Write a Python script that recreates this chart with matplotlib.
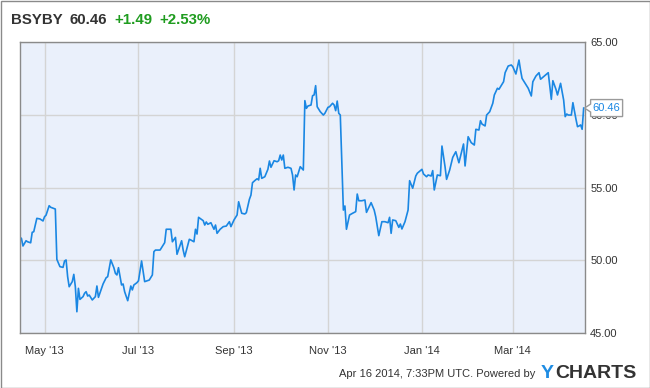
#!/usr/bin/env python3
"""BSYBY one-year price chart, YCharts style. Saves out.png."""
import pandas as pd
import matplotlib
matplotlib.use("Agg")
import matplotlib.pyplot as plt
import matplotlib.dates as mdates
from matplotlib.patches import Polygon, Rectangle
from matplotlib.transforms import IdentityTransform

plt.rcParams["font.family"] = ["Liberation Sans", "DejaVu Sans"]

# data: days after 2013-04-15 and closing price
start = "2013-04-15"
days = [
    0, 1, 2, 4, 5, 7, 8, 9, 11, 13,
    15, 16, 17, 19, 20, 23, 24, 26, 28, 29,
    30, 31, 32, 34, 35, 36, 37, 38, 39, 41,
    42, 43, 44, 45, 47, 49, 50, 51, 53, 54,
    56, 57, 59, 61, 62, 63, 64, 66, 67, 68,
    70, 72, 73, 74, 76, 77, 79, 81, 84, 86,
    87, 88, 91, 94, 95, 98, 99, 101, 102, 105,
    106, 107, 110, 111, 113, 114, 115, 116, 119, 120,
    121, 122, 124, 125, 126, 127, 128, 130, 132, 134,
    136, 137, 139, 141, 142, 144, 146, 147, 149, 150,
    151, 153, 154, 155, 156, 157, 159, 161, 162, 163,
    165, 167, 168, 169, 170, 171, 172, 174, 176, 177,
    178, 179, 180, 181, 182, 184, 185, 186, 187, 189,
    190, 191, 192, 193, 195, 197, 198, 200, 201, 203,
    204, 205, 206, 207, 208, 210, 211, 212, 214, 216,
    218, 219, 220, 222, 224, 225, 227, 228, 230, 231,
    233, 235, 237, 239, 240, 241, 242, 244, 246, 247,
    248, 250, 252, 253, 255, 257, 258, 261, 262, 264,
    265, 267, 268, 269, 271, 273, 274, 276, 277, 279,
    281, 283, 285, 286, 288, 289, 291, 293, 295, 296,
    298, 299, 300, 302, 303, 305, 307, 308, 310, 311,
    314, 315, 317, 319, 320, 322, 324, 325, 326, 328,
    330, 332, 333, 335, 337, 338, 340, 342, 343, 345,
    346, 348, 349, 351, 353, 354, 355, 356, 358, 359,
    361, 362, 363, 364, 365, 366,
]
prices = [
    51.58, 51.50, 50.98, 51.34, 51.27, 51.20, 51.92, 51.96, 52.88, 52.84,
    52.70, 52.99, 53.10, 53.75, 53.64, 53.52, 50.06, 49.56, 49.51, 49.95,
    50.02, 48.87, 48.18, 48.53, 49.03, 48.18, 46.46, 48.07, 47.31, 47.50,
    47.73, 47.84, 47.54, 47.61, 47.27, 47.50, 48.23, 47.45, 48.07, 48.37,
    48.80, 48.87, 50.02, 49.49, 49.10, 48.99, 49.49, 48.30, 48.37, 47.84,
    47.22, 48.23, 47.96, 48.30, 48.46, 48.59, 49.95, 48.53, 48.64, 48.99,
    50.59, 50.70, 50.70, 51.21, 52.13, 52.13, 51.27, 51.57, 50.41, 51.34,
    50.70, 50.24, 51.44, 51.39, 51.27, 52.13, 51.80, 52.95, 52.72, 52.42,
    52.63, 52.47, 52.58, 52.35, 52.13, 52.42, 51.85, 52.13, 52.31, 52.35,
    52.65, 52.31, 52.77, 53.11, 54.02, 53.23, 53.18, 53.27, 54.19, 54.48,
    55.33, 55.52, 55.60, 55.52, 56.32, 55.63, 55.74, 56.25, 56.82, 56.39,
    56.84, 56.77, 56.84, 57.23, 56.89, 57.23, 56.32, 56.39, 56.32, 55.86,
    54.83, 55.86, 55.74, 56.09, 56.43, 56.20, 60.97, 60.44, 60.60, 60.67,
    61.31, 61.36, 62.00, 60.55, 60.21, 59.98, 60.10, 60.51, 60.55, 60.79,
    60.67, 60.28, 60.94, 60.10, 59.98, 53.45, 53.73, 52.13, 53.11, 53.23,
    53.34, 54.55, 54.09, 54.09, 54.14, 53.29, 53.73, 53.96, 53.45, 52.99,
    51.69, 52.65, 52.65, 52.58, 52.95, 51.85, 52.77, 52.72, 52.26, 52.49,
    52.15, 52.65, 53.45, 55.47, 54.95, 55.79, 55.98, 56.25, 55.93, 55.74,
    55.86, 55.79, 56.16, 54.83, 55.86, 55.81, 57.85, 56.43, 55.56, 56.20,
    57.07, 57.46, 56.70, 57.12, 57.99, 56.48, 58.49, 58.08, 57.92, 59.00,
    58.95, 59.59, 59.36, 59.23, 59.98, 60.21, 60.79, 61.36, 61.82, 61.75,
    62.27, 62.89, 63.35, 63.42, 63.30, 62.80, 63.76, 63.08, 62.50, 62.16,
    61.82, 61.29, 62.27, 62.66, 62.89, 62.44, 62.62, 62.80, 62.89, 61.06,
    62.34, 61.75, 61.36, 62.16, 61.01, 59.87, 60.05, 59.98, 59.98, 60.83,
    59.69, 59.18, 59.23, 59.30, 59.00, 60.46,
]
yticks = [45, 50, 55, 60, 65]

ticker = "BSYBY"
last_price = "60.46"
change = "+1.49"
change_pct = "+2.53%"
footer = "Apr 16 2014, 7:33PM UTC. Powered by"

LINE = "#1a87e3"
DARK = "#333333"
GREEN = "#1f9c1f"


def main():
    dates = pd.Timestamp(start) + pd.to_timedelta(days, unit="D")

    W, H = 650, 388
    fig = plt.figure(figsize=(W / 100, H / 100), dpi=100)
    fig.patch.set_facecolor("white")
    fig.add_artist(Rectangle((0.5, 0.5), W - 1, H - 1, transform=IdentityTransform(),
                             fill=False, edgecolor="#8a8a8a", linewidth=1))

    # axes box in pixels: left 19.5, right 584.6, top 42, bottom 333
    ax = fig.add_axes([19.5 / W, 1 - 333 / H, (584.6 - 19.5) / W, (333 - 42) / H])
    ax.set_facecolor("#eaf0fb")
    ax.plot(dates, prices, color=LINE, linewidth=1.2, solid_joinstyle="round")

    t0 = pd.Timestamp(start)
    ax.set_xlim(t0 - pd.Timedelta(hours=6), t0 + pd.Timedelta(days=366.6))
    ax.set_ylim(45, 65)
    ax.set_yticks(yticks)
    ax.set_yticklabels([f"{v:.2f}" for v in yticks])
    ax.yaxis.tick_right()
    ax.xaxis.set_major_locator(mdates.MonthLocator(bymonth=[1, 3, 5, 7, 9, 11]))
    ax.xaxis.set_major_formatter(mdates.DateFormatter("%b '%y"))
    ax.tick_params(axis="x", length=0, pad=9, labelsize=8, colors=DARK)
    ax.tick_params(axis="y", length=0, pad=4, labelsize=8, colors=DARK)
    ax.grid(True, color="#d4d4d4", linewidth=1)
    ax.set_axisbelow(True)
    for s in ax.spines.values():
        s.set_color("#8a8a8a")
        s.set_linewidth(1)

    # header
    y_head = 1 - 20.5 / H
    fig.text(10.7 / W, y_head, ticker, fontsize=10.8, fontweight="bold", color=DARK, va="center")
    fig.text(70 / W, y_head, last_price, fontsize=10.8, fontweight="bold", color=DARK, va="center")
    fig.text(114 / W, y_head, change, fontsize=10.8, fontweight="bold", color=GREEN, va="center")
    fig.text(159 / W, y_head, change_pct, fontsize=10.8, fontweight="bold", color=GREEN, va="center")

    # last value callout
    fig.canvas.draw()
    x0, y0 = ax.transAxes.transform((1.0, 0.0))[0], ax.transData.transform((0, prices[-1]))[1]
    box = [(x0, y0), (x0 + 6, y0 + 4), (x0 + 6, y0 + 8.5), (x0 + 38, y0 + 8.5),
           (x0 + 38, y0 - 8.5), (x0 + 6, y0 - 8.5), (x0 + 6, y0 - 4)]
    fig.add_artist(Polygon(box, closed=True, transform=IdentityTransform(),
                           facecolor="white", edgecolor="#9a9a9a", linewidth=1, zorder=5))
    fig.text((x0 + 22) / W, y0 / H, last_price, fontsize=8, color=LINE,
             ha="center", va="center", zorder=6)

    # footer
    y_foot = 1 - 374 / H
    fig.text(535 / W, y_foot, footer, fontsize=8, color=DARK, ha="right", va="center")
    fig.text(541 / W, y_foot, "Y", fontsize=14, fontweight="bold", color="#1e8ce3", va="center")
    fig.text(555 / W, y_foot, "CHARTS", fontsize=14, fontweight="bold", color=DARK, va="center")

    fig.savefig("out.png", dpi=100)


if __name__ == "__main__":
    main()
